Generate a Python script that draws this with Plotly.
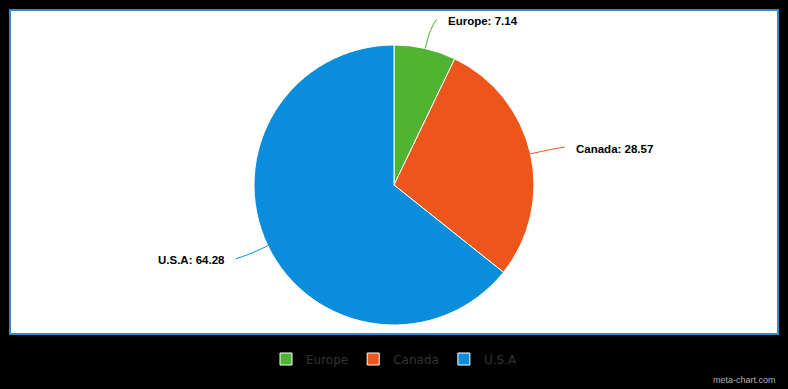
import math
import plotly.graph_objects as go

labels = ["Europe", "Canada", "U.S.A"]
values = [7.14, 28.57, 64.28]
colors = ["#50B432", "#ED561B", "#0A8EDC"]

W, H = 788, 389
CX, CY, R = 394, 185, 140

def px2paper(x, y):
    return x / W, 1 - y / H

fig = go.Figure()
x0, y1 = px2paper(CX - R, CY - R)
x1, y0 = px2paper(CX + R, CY + R)
fig.add_trace(go.Pie(
    labels=labels, values=values, sort=False, direction="clockwise", rotation=0,
    marker=dict(colors=colors, line=dict(color="white", width=1)),
    textinfo="none", domain=dict(x=[x0, x1], y=[y0, y1]),
    hovertemplate="%{label}: %{value}<extra></extra>",
))

shapes = []
annotations = []
# plot-area frame
shapes.append(dict(type="rect", xref="paper", yref="paper", layer="below",
                   x0=10 / W, x1=778 / W, y0=1 - 334 / H, y1=1 - 10 / H,
                   fillcolor="white", line=dict(color="#3a86c8", width=2)))

total = sum(values)
cum = 0
for lab, v, c in zip(labels, values, colors):
    mid = (cum + v / 2) / total * 2 * math.pi
    cum += v
    s, co = math.sin(mid), math.cos(mid)
    P = (CX + R * s, CY - R * co)
    C = (CX + (R + 22) * s, CY - (R + 22) * co)
    L = (CX + (R + 30) * s, CY - (R + 30) * co)
    side = 1 if s >= 0 else -1
    E = (L[0] + 5 * side, L[1])
    pts = [px2paper(*p) for p in (P, C, E)]
    path = "M {:.5f},{:.5f} Q {:.5f},{:.5f} {:.5f},{:.5f}".format(
        pts[0][0], pts[0][1], pts[1][0], pts[1][1], pts[2][0], pts[2][1])
    shapes.append(dict(type="path", xref="paper", yref="paper", path=path,
                       line=dict(color=c, width=1)))
    tx, ty = px2paper(L[0] + 14 * side, L[1] + 1.5)
    annotations.append(dict(x=tx, y=ty, xref="paper", yref="paper", showarrow=False,
                            xanchor="left" if side > 0 else "right", yanchor="middle",
                            text="<b>{}: {}</b>".format(lab, v),
                            font=dict(family="Liberation Sans, Arial", size=11.5, color="#000")))

annotations.append(dict(x=778 / W, y=1 - 380 / H, xref="paper", yref="paper", showarrow=False,
                        xanchor="right", yanchor="middle", text="meta-chart.com",
                        font=dict(family="Liberation Sans, Arial", size=9, color="#b0b0b0")))

fig.update_layout(
    width=W, height=H, margin=dict(l=0, r=0, t=0, b=0),
    paper_bgcolor="black", plot_bgcolor="black",
    shapes=shapes, annotations=annotations,
    showlegend=True,
    legend=dict(orientation="h", x=0.5, xanchor="center", y=1 - 359 / H, yanchor="middle",
                font=dict(family="DejaVu Sans", size=12, color="#333333"),
                bgcolor="rgba(0,0,0,0)", itemclick=False),
)
fig.write_html("out.html")
